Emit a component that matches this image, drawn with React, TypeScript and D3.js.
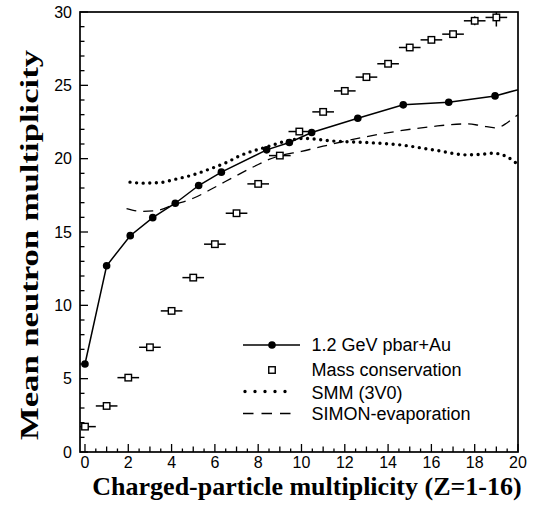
import React from "react";
import * as d3 from "d3";

// ---------------- data ----------------
const dataX = [0, 1.0, 2.09, 3.13, 4.17, 5.25, 6.3, 8.39, 9.44, 10.47, 12.6, 14.7, 16.8, 18.94, 21.0];
const dataY = [6.0, 12.7, 14.75, 15.98, 16.96, 18.17, 19.08, 20.6, 21.1, 21.78, 22.76, 23.67, 23.85, 24.28, 25.1];

const massX = [0, 1, 2, 3, 4, 5, 6, 7, 8, 9, 9.9, 11, 12, 13, 14, 15, 16, 17, 18, 19];
const massY = [1.73, 3.14, 5.07, 7.14, 9.62, 11.89, 14.17, 16.28, 18.28, 20.21, 21.85, 23.19, 24.62, 25.56, 26.47, 27.58, 28.1, 28.49, 29.4, 29.63];
const massXErr = [0.5, 0.5, 0.5, 0.5, 0.5, 0.5, 0.5, 0.5, 0.5, 0.5, 0.5, 0.5, 0.5, 0.5, 0.5, 0.5, 0.5, 0.5, 0.5, 0.5];
const massYErr = [0, 0, 0, 0, 0, 0, 0, 0, 0, 0, 0, 0, 0, 0, 0, 0, 0, 0, 0.3, 0.62];

const smmX = [2.08, 2.7, 3.46, 4.24, 5.0, 5.77, 6.55, 7.16, 8.39, 9.62, 10.1, 11.47, 13.0, 14.55, 16.09, 17.63, 18.3, 18.86, 19.47, 20.0];
const smmY = [18.4, 18.33, 18.37, 18.62, 18.9, 19.3, 19.75, 20.2, 20.8, 21.3, 21.38, 21.2, 21.1, 20.94, 20.6, 20.26, 20.3, 20.37, 20.14, 19.6];

const simonX = [1.92, 2.62, 3.31, 4.08, 5.0, 5.93, 7.0, 8.0, 8.5, 9.0, 10.0, 11.0, 13.0, 14.55, 16.09, 17.63, 18.3, 19.0, 19.47, 19.77, 20.0];
const simonY = [16.6, 16.4, 16.46, 16.85, 17.3, 18.0, 18.85, 19.6, 19.95, 20.2, 20.5, 20.85, 21.5, 21.9, 22.2, 22.37, 22.25, 22.1, 22.42, 22.76, 23.0];

const xTickLabels = ["0", "2", "4", "6", "8", "10", "12", "14", "16", "18", "20"];
const yTickLabels = ["0", "5", "10", "15", "20", "25", "30"];

const legendLabels = ["1.2 GeV pbar+Au", "Mass conservation", "SMM (3V0)", "SIMON-evaporation"];
const xTitle = "Charged-particle multiplicity (Z=1-16)";
const yTitle = "Mean neutron multiplicity";

// ---------------- layout ----------------
const W = 535;
const H = 510;
const L = 80, R = 518, T = 12, B = 452;

export default function App() {
  const x = d3.scaleLinear().domain([-0.23, 20]).range([L, R]);
  const y = d3.scaleLinear().domain([0, 30]).range([B, T]);

  const lineGen = d3
    .line<[number, number]>()
    .x((d) => x(d[0]))
    .y((d) => y(d[1]));
  const curveGen = d3
    .line<[number, number]>()
    .x((d) => x(d[0]))
    .y((d) => y(d[1]))
    .curve(d3.curveMonotoneX);

  const dataPts: [number, number][] = dataX.map((v, i) => [v, dataY[i]]);
  const smmPts: [number, number][] = smmX.map((v, i) => [v, smmY[i]]);
  const simonPts: [number, number][] = simonX.map((v, i) => [v, simonY[i]]);

  const xMinor = d3.range(0, 20.001, 0.5);
  const yMinor = d3.range(0, 30.001, 1);

  const tickFont = "'Liberation Sans', Arial, Helvetica, sans-serif";
  const sq = 6.5;

  return (
    <svg
      width={W}
      height={H}
      style={{ position: "absolute", left: 0, top: 0, background: "#fff" }}
    >
      <defs>
        <clipPath id="plotClip">
          <rect x={L} y={T} width={R - L} height={B - T} />
        </clipPath>
      </defs>
      <rect x={0} y={0} width={W} height={H} fill="#fff" />

      {/* curves */}
      <g clipPath="url(#plotClip)">
        <path
          d={curveGen(smmPts) || ""}
          fill="none"
          stroke="#000"
          strokeWidth={3.4}
          strokeLinecap="round"
          strokeDasharray="0 6.6"
        />
        <path
          d={curveGen(simonPts) || ""}
          fill="none"
          stroke="#000"
          strokeWidth={1.3}
          strokeDasharray="10 7"
        />
        {/* mass conservation */}
        {massX.map((mx, i) => (
          <g key={"m" + i}>
            <line
              x1={x(mx - massXErr[i])}
              x2={x(mx + massXErr[i])}
              y1={y(massY[i])}
              y2={y(massY[i])}
              stroke="#000"
              strokeWidth={1.5}
            />
            {massYErr[i] > 0 && (
              <line
                x1={x(mx)}
                x2={x(mx)}
                y1={y(massY[i] - massYErr[i])}
                y2={y(massY[i] + massYErr[i])}
                stroke="#000"
                strokeWidth={1.5}
              />
            )}
            <rect
              x={x(mx) - sq / 2}
              y={y(massY[i]) - sq / 2}
              width={sq}
              height={sq}
              fill="#fff"
              stroke="#000"
              strokeWidth={1.4}
            />
          </g>
        ))}
        {/* data */}
        <path d={lineGen(dataPts) || ""} fill="none" stroke="#000" strokeWidth={1.5} />
        {dataPts.map((p, i) => (
          <circle key={"d" + i} cx={x(p[0])} cy={y(p[1])} r={3.8} fill="#000" />
        ))}
      </g>

      {/* frame */}
      <rect x={L} y={T} width={R - L} height={B - T} fill="none" stroke="#000" strokeWidth={1.7} />

      {/* x ticks */}
      {xMinor.map((v, i) => {
        const len = i % 4 === 0 ? 8 : i % 2 === 0 ? 5.5 : 3.5;
        return (
          <line key={"xt" + i} x1={x(v)} x2={x(v)} y1={B} y2={B - len} stroke="#000" strokeWidth={1.3} />
        );
      })}
      {xTickLabels.map((t, i) => (
        <text
          key={"xl" + i}
          x={x(+t)}
          y={467.5}
          textAnchor="middle"
          fontFamily={tickFont}
          fontSize={16}
          fill="#000"
        >
          {t}
        </text>
      ))}

      {/* y ticks */}
      {yMinor.map((v, i) => {
        const len = i % 5 === 0 ? 8 : 4.5;
        return (
          <line key={"yt" + i} x1={L} x2={L + len} y1={y(v)} y2={y(v)} stroke="#000" strokeWidth={1.3} />
        );
      })}
      {yTickLabels.map((t, i) => (
        <text
          key={"yl" + i}
          x={72}
          y={y(+t) + 5.7}
          textAnchor="end"
          fontFamily={tickFont}
          fontSize={16}
          fill="#000"
        >
          {t}
        </text>
      ))}

      {/* legend */}
      <g fontFamily={tickFont} fontSize={18} fill="#000">
        <line x1={243} x2={300} y1={345} y2={345} stroke="#000" strokeWidth={1.5} />
        <circle cx={272} cy={345} r={3.8} fill="#000" />
        <text x={311.5} y={351}>{legendLabels[0]}</text>

        <rect x={272 - sq / 2} y={370 - sq / 2} width={sq} height={sq} fill="#fff" stroke="#000" strokeWidth={1.4} />
        <text x={311.5} y={375.5}>{legendLabels[1]}</text>

        <line
          x1={245}
          x2={286}
          y1={391.5}
          y2={391.5}
          stroke="#000"
          strokeWidth={3.4}
          strokeLinecap="round"
          strokeDasharray="0 10"
        />
        <text x={311.5} y={398.5}>{legendLabels[2]}</text>

        <line
          x1={243}
          x2={291}
          y1={413.5}
          y2={413.5}
          stroke="#000"
          strokeWidth={1.3}
          strokeDasharray="10.5 8"
        />
        <text x={311.5} y={419.5}>{legendLabels[3]}</text>
      </g>

      {/* axis titles */}
      <text
        x={307}
        y={495}
        textAnchor="middle"
        fontFamily="'Liberation Serif', 'Times New Roman', serif"
        fontWeight="bold"
        fontSize={26}
        fill="#000"
      >
        {xTitle}
      </text>
      <text
        transform="translate(37.5,245) rotate(-90)"
        textAnchor="middle"
        fontFamily="'Liberation Serif', 'Times New Roman', serif"
        fontWeight="bold"
        fontSize={26}
        fill="#000"
        textLength={390}
        lengthAdjust="spacingAndGlyphs"
      >
        {yTitle}
      </text>
    </svg>
  );
}
